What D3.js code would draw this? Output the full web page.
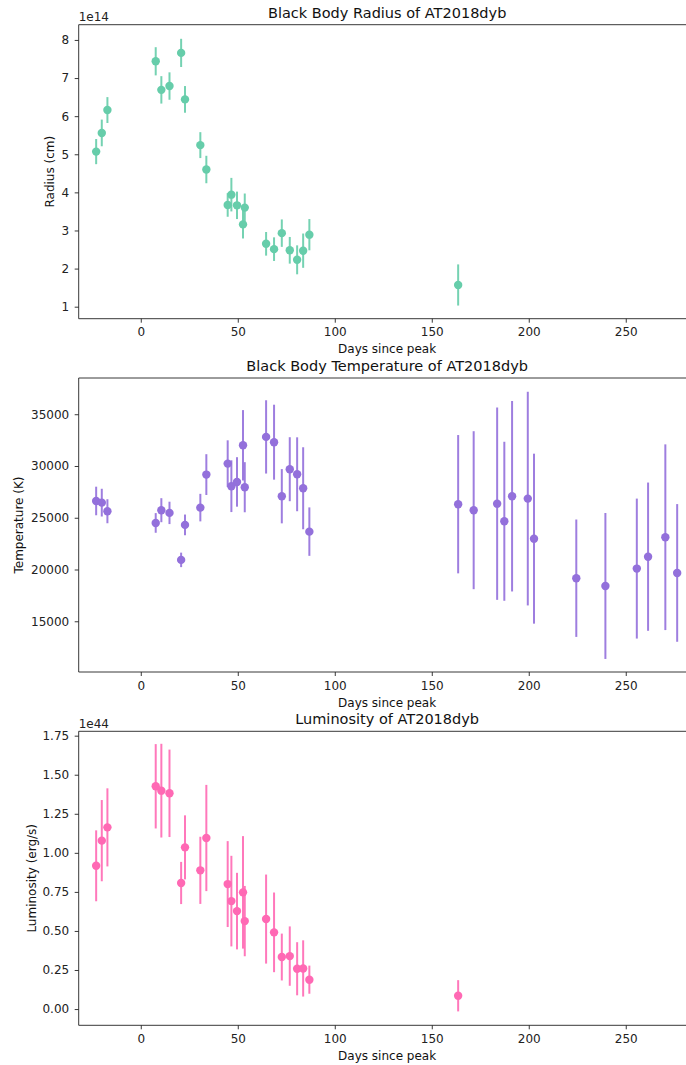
<!DOCTYPE html>
<html>
<head>
<meta charset="utf-8">
<script src="https://cdn.jsdelivr.net/npm/d3@7"></script>
<style>
  html, body { margin: 0; padding: 0; background: #fff; }
  svg { display: block; font-family: "DejaVu Sans", sans-serif; }
</style>
</head>
<body>
<svg id="chart" width="686" height="1065"></svg>
<script>
// Days since peak for the photometric epochs
const days = [-23, -20.1, -17.2, 7.7, 10.6, 14.8, 20.8, 22.8, 30.7, 33.8, 44.8, 46.7,
  49.6, 52.7, 53.6, 64.6, 68.7, 72.7, 76.8, 80.6, 83.7, 86.9, 163.6];
// Later epochs that only have a temperature fit
const lateDays = [171.6, 183.7, 187.4, 191.4, 199.5, 202.7, 224.5, 239.5, 255.7, 261.5, 270.4, 276.5];

// Black body radius (cm) and 1-sigma errors
const radius = [5.07e14, 5.56e14, 6.16e14, 7.44e14, 6.69e14, 6.79e14, 7.66e14, 6.44e14, 5.24e14,
  4.60e14, 3.67e14, 3.94e14, 3.66e14, 3.16e14, 3.60e14, 2.65e14, 2.51e14, 2.93e14, 2.48e14,
  2.23e14, 2.47e14, 2.89e14, 1.57e14];
const radiusErr = [0.33e14, 0.35e14, 0.34e14, 0.37e14, 0.36e14, 0.36e14, 0.37e14, 0.35e14, 0.34e14,
  0.36e14, 0.31e14, 0.44e14, 0.36e14, 0.37e14, 0.37e14, 0.31e14, 0.31e14, 0.36e14, 0.35e14,
  0.38e14, 0.45e14, 0.41e14, 0.54e14];

// Black body temperature (K) and errors
const temperature = [26620, 26460, 25630, 24500, 25730, 25470, 20930, 24310, 25980, 29170, 30230,
  28050, 28460, 32000, 27950, 32810, 32300, 27080, 29690, 29200, 27850, 23660, 26310,
  25730, 26360, 24660, 27080, 26850, 22980, 19160, 18410, 20090, 21240, 23120, 19670];
const temperatureErr = [1380, 1340, 1160, 950, 1160, 1080, 700, 1000, 1330, 1970, 2250,
  2500, 2390, 3400, 2420, 3540, 3620, 2620, 3090, 3570, 3960, 2340, 6680,
  7630, 9290, 7680, 9200, 10320, 8210, 5670, 7050, 6760, 7160, 8970, 6650];

// Bolometric luminosity (erg/s) and errors
const luminosity = [0.917e44, 1.078e44, 1.163e44, 1.426e44, 1.398e44, 1.381e44, 0.807e44, 1.035e44,
  0.888e44, 1.095e44, 0.800e44, 0.691e44, 0.627e44, 0.747e44, 0.563e44, 0.576e44, 0.491e44,
  0.333e44, 0.339e44, 0.258e44, 0.260e44, 0.188e44, 0.085e44];
const luminosityErr = [0.227e44, 0.26e44, 0.25e44, 0.27e44, 0.30e44, 0.28e44, 0.135e44, 0.205e44,
  0.215e44, 0.34e44, 0.275e44, 0.29e44, 0.245e44, 0.36e44, 0.225e44, 0.285e44, 0.255e44,
  0.15e44, 0.19e44, 0.17e44, 0.18e44, 0.09e44, 0.10e44];

// Axis ticks
const dayTicks = [0, 50, 100, 150, 200, 250];
const radiusTicks = [1e14, 2e14, 3e14, 4e14, 5e14, 6e14, 7e14, 8e14];
const temperatureTicks = [15000, 20000, 25000, 30000, 35000];
const luminosityTicks = [0, 0.25e44, 0.5e44, 0.75e44, 1.0e44, 1.25e44, 1.5e44, 1.75e44];

const svg = d3.select("#chart");
svg.append("rect").attr("width", 686).attr("height", 1065).attr("fill", "#fff");

const left = 78.7, right = 695.6;
const midX = (left + right) / 2;
const x = d3.scaleLinear().domain([-32, 286]).range([left, right]);

function panel(cfg) {
  const y = d3.scaleLinear().domain(cfg.yDomain).range([cfg.bottom, cfg.top]);
  const g = svg.append("g");
  const pts = cfg.x.map((d, i) => ({ x: d, y: cfg.y[i], e: cfg.err[i] }));

  // Error bars then markers
  g.append("g").selectAll("line").data(pts).join("line")
    .attr("x1", d => x(d.x)).attr("x2", d => x(d.x))
    .attr("y1", d => y(d.y - d.e)).attr("y2", d => y(d.y + d.e))
    .attr("stroke", cfg.color).attr("stroke-width", 2).attr("stroke-opacity", 0.9);
  g.append("g").selectAll("circle").data(pts).join("circle")
    .attr("cx", d => x(d.x)).attr("cy", d => y(d.y)).attr("r", 4.2)
    .attr("fill", cfg.color);

  // Axes
  const xa = g.append("g").attr("transform", `translate(0,${cfg.bottom})`)
    .call(d3.axisBottom(x).tickValues(dayTicks).tickSize(4).tickPadding(5).tickFormat(d3.format("d")));
  const ya = g.append("g").attr("transform", `translate(${left},0)`)
    .call(d3.axisLeft(y).tickValues(cfg.ticks).tickSize(4).tickPadding(5.5).tickFormat(cfg.fmt));
  [xa, ya].forEach(a => {
    a.select(".domain").remove();
    a.selectAll("line").attr("stroke", "#222").attr("stroke-width", 0.9);
    a.selectAll("text").attr("font-size", 12).attr("fill", "#222")
      .attr("font-family", "DejaVu Sans, sans-serif");
  });

  // Spines: left, bottom, top (right edge lies beyond the page)
  const spine = g.append("g").attr("stroke", "#222").attr("stroke-width", 0.9).attr("fill", "none");
  spine.append("path").attr("d", `M${right},${cfg.top}H${left}V${cfg.bottom}H${right}`);

  // Titles and labels
  g.append("text").attr("x", midX).attr("y", cfg.top - 7).attr("text-anchor", "middle")
    .attr("font-size", 14.5).attr("fill", "#111").text(cfg.title);
  g.append("text").attr("x", midX).attr("y", cfg.bottom + 34.5).attr("text-anchor", "middle")
    .attr("font-size", 12).attr("fill", "#111").text("Days since peak");
  g.append("text")
    .attr("transform", `translate(${cfg.labelX},${(cfg.top + cfg.bottom) / 2}) rotate(-90)`)
    .attr("text-anchor", "middle").attr("dominant-baseline", "central")
    .attr("font-size", 12).attr("fill", "#111").text(cfg.label);
  if (cfg.offset) {
    g.append("text").attr("x", left).attr("y", cfg.top - 3.5)
      .attr("font-size", 12).attr("fill", "#222").text(cfg.offset);
  }
}

panel({
  top: 24.7, bottom: 318.7, yDomain: [0.685e14, 8.40e14],
  x: days, y: radius, err: radiusErr, ticks: radiusTicks,
  fmt: d => d3.format("d")(Math.round(d / 1e14)), offset: "1e14",
  color: "#66cdaa", title: "Black Body Radius of AT2018dyb", label: "Radius (cm)", labelX: 50
});

panel({
  top: 378, bottom: 672, yDomain: [10100, 38500],
  x: days.concat(lateDays), y: temperature, err: temperatureErr, ticks: temperatureTicks,
  fmt: d3.format("d"),
  color: "#9370db", title: "Black Body Temperature of AT2018dyb", label: "Temperature (K)", labelX: 19
});

panel({
  top: 731.3, bottom: 1025.3, yDomain: [-0.104e44, 1.778e44],
  x: days, y: luminosity, err: luminosityErr, ticks: luminosityTicks,
  fmt: d => d3.format(".2f")(d / 1e44), offset: "1e44",
  color: "#ff69b4", title: "Luminosity of AT2018dyb", label: "Luminosity (erg/s)", labelX: 31.5
});
</script>
</body>
</html>
